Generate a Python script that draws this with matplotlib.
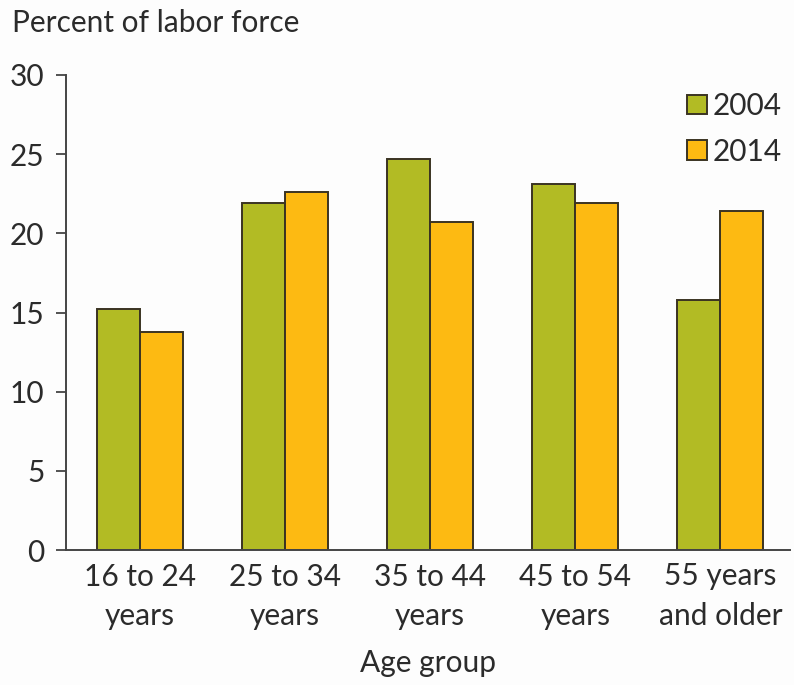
import matplotlib
matplotlib.use("Agg")
import matplotlib.pyplot as plt
import numpy as np

categories = ["16 to 24\nyears", "25 to 34\nyears", "35 to 44\nyears", "45 to 54\nyears", "55 years\nand older"]
series_names = ["2004", "2014"]
values_2004 = [15.2, 21.9, 24.7, 23.1, 15.8]
values_2014 = [13.8, 22.6, 20.7, 21.9, 21.4]
yticks = [0, 5, 10, 15, 20, 25, 30]

plt.rcParams['font.family'] = ['Lato', 'DejaVu Sans']
FS = 21.5
text_color = "#2b2b2b"
green = "#B2BB24"
orange = "#FDBA12"
edge = "#3a3322"

fig = plt.figure(figsize=(7.94, 6.85), dpi=100, facecolor="#fdfdfd")
ax = fig.add_axes([66/794, 135/685, (790-66)/794, (550-75)/685])
ax.set_facecolor("#fdfdfd")

x = np.arange(len(categories))
w = 0.297
ax.bar(x - w/2, values_2004, w, color=green, edgecolor=edge, linewidth=1.4, label=series_names[0])
ax.bar(x + w/2, values_2014, w, color=orange, edgecolor=edge, linewidth=1.4, label=series_names[1])

ax.set_xlim(-0.51, 4.48)
ax.set_ylim(0, 30)
ax.set_yticks(yticks)
ax.set_yticklabels([str(t) for t in yticks], fontsize=FS, color=text_color)
ax.set_xticks(x)
ax.set_xticklabels(categories, fontsize=FS, color=text_color, linespacing=1.5)
ax.tick_params(axis='x', length=0, pad=9)
ax.tick_params(axis='y', length=7.5, width=1.3, color="#444444", pad=8, direction='out')

for s in ['top', 'right']:
    ax.spines[s].set_visible(False)
for s in ['left', 'bottom']:
    ax.spines[s].set_color("#444444")
    ax.spines[s].set_linewidth(1.4)

ax.set_xlabel("Age group", fontsize=FS, color=text_color, labelpad=14)
fig.text(12/794, 1 - 23/685, "Percent of labor force", fontsize=FS, color=text_color,
         ha='left', va='center')

leg = ax.legend(loc='upper right', bbox_to_anchor=(782/794, 1 - 92/685), bbox_transform=fig.transFigure,
                frameon=False, fontsize=FS, handlelength=0.65, handleheight=0.65,
                handletextpad=0.2, labelspacing=0.6, borderpad=0, borderaxespad=0)
for t in leg.get_texts():
    t.set_color(text_color)

fig.savefig("out.png", dpi=100, facecolor=fig.get_facecolor())
